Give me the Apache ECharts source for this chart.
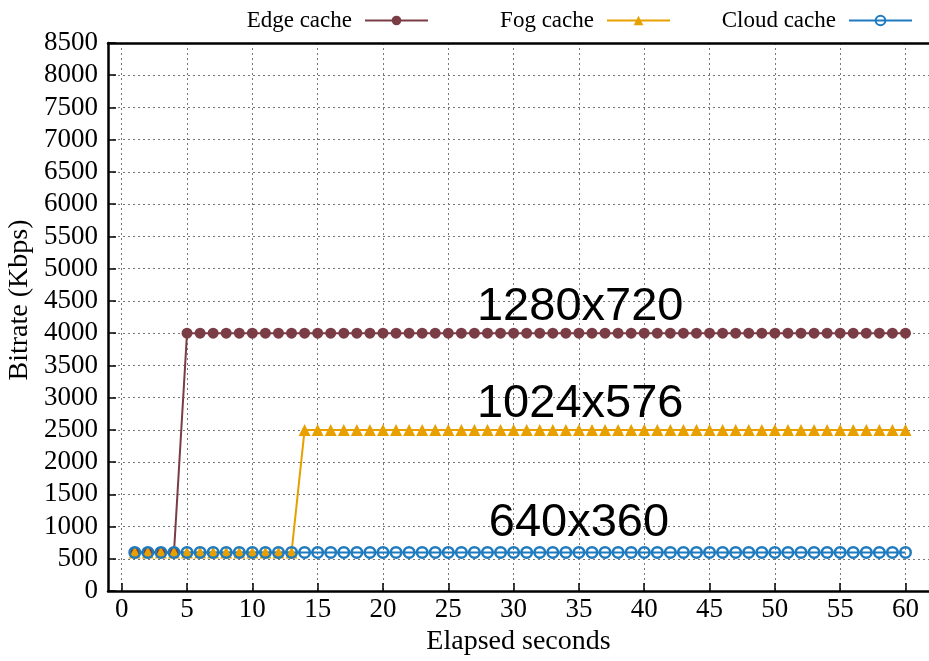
<!DOCTYPE html>
<html>
<head>
<meta charset="utf-8">
<script src="https://cdn.jsdelivr.net/npm/echarts@6/dist/echarts.min.js"></script>
<style>
  html, body { margin: 0; padding: 0; background: #fff; width: 100%; height: 100%; overflow: hidden; }
  #bitrate-chart { width: 100vw; height: 100vh; }
</style>
</head>
<body>
<div id="bitrate-chart"></div>
<script>
// elapsed seconds (x values)
const seconds = [
  1, 2, 3, 4, 5, 6, 7, 8, 9, 10,
  11, 12, 13, 14, 15, 16, 17, 18, 19, 20,
  21, 22, 23, 24, 25, 26, 27, 28, 29, 30,
  31, 32, 33, 34, 35, 36, 37, 38, 39, 40,
  41, 42, 43, 44, 45, 46, 47, 48, 49, 50,
  51, 52, 53, 54, 55, 56, 57, 58, 59, 60
];
const edgeCache = [
  600, 600, 600, 600, 4000, 4000, 4000, 4000, 4000, 4000,
  4000, 4000, 4000, 4000, 4000, 4000, 4000, 4000, 4000, 4000,
  4000, 4000, 4000, 4000, 4000, 4000, 4000, 4000, 4000, 4000,
  4000, 4000, 4000, 4000, 4000, 4000, 4000, 4000, 4000, 4000,
  4000, 4000, 4000, 4000, 4000, 4000, 4000, 4000, 4000, 4000,
  4000, 4000, 4000, 4000, 4000, 4000, 4000, 4000, 4000, 4000
];
const fogCache = [
  600, 600, 600, 600, 600, 600, 600, 600, 600, 600,
  600, 600, 600, 2500, 2500, 2500, 2500, 2500, 2500, 2500,
  2500, 2500, 2500, 2500, 2500, 2500, 2500, 2500, 2500, 2500,
  2500, 2500, 2500, 2500, 2500, 2500, 2500, 2500, 2500, 2500,
  2500, 2500, 2500, 2500, 2500, 2500, 2500, 2500, 2500, 2500,
  2500, 2500, 2500, 2500, 2500, 2500, 2500, 2500, 2500, 2500
];
const cloudCache = [
  600, 600, 600, 600, 600, 600, 600, 600, 600, 600,
  600, 600, 600, 600, 600, 600, 600, 600, 600, 600,
  600, 600, 600, 600, 600, 600, 600, 600, 600, 600,
  600, 600, 600, 600, 600, 600, 600, 600, 600, 600,
  600, 600, 600, 600, 600, 600, 600, 600, 600, 600,
  600, 600, 600, 600, 600, 600, 600, 600, 600, 600
];
const xTicks = [0, 5, 10, 15, 20, 25, 30, 35, 40, 45, 50, 55, 60];
// resolution annotations: [label, x, y]
const resolutions = [
  ['1280x720', 35.1, 4400],
  ['1024x576', 35.1, 2895],
  ['640x360', 35.0, 1060]
];

const serif = '"Liberation Serif", "DejaVu Serif", serif';
const sans = '"Liberation Sans", Arial, sans-serif';
const colors = { edge: '#7a3d45', fog: '#e8a000', cloud: '#1f7bbf' };

const pairs = (vals) => seconds.map((s, i) => [s, vals[i]]);

const chart = echarts.init(document.getElementById('bitrate-chart'));

const legendCommon = {
  top: 4,
  align: 'right',
  itemWidth: 63,
  itemHeight: 12,
  textStyle: { fontFamily: serif, fontSize: 23, color: '#000', padding: [0, 8, 0, 0] }
};

chart.setOption({
  animation: false,
  backgroundColor: '#fff',
  legend: [
    Object.assign({ right: 495, data: ['Edge cache'] }, legendCommon),
    Object.assign({ right: 253, data: ['Fog cache'] }, legendCommon),
    Object.assign({ right: 11, data: ['Cloud cache'] }, legendCommon)
  ],
  grid: { left: 108, right: 0, top: 43, bottom: 62, containLabel: false },
  xAxis: [
    {
      type: 'value',
      min: -1.05,
      max: 61.8,
      position: 'bottom',
      axisLine: { show: true, onZero: false, lineStyle: { color: '#000', width: 2.5 } },
      axisTick: { show: true, inside: true, length: 8, lineStyle: { color: '#000', width: 1.5 }, customValues: xTicks },
      axisLabel: { customValues: xTicks, fontFamily: serif, fontSize: 27, color: '#000', margin: 5 },
      splitLine: { show: true, lineStyle: { color: '#777', type: [2, 3], width: 1 } },
      name: 'Elapsed seconds',
      nameLocation: 'middle',
      nameGap: 33,
      nameTextStyle: { fontFamily: serif, fontSize: 28, color: '#000' }
    },
    {
      type: 'value',
      min: -1.05,
      max: 61.8,
      position: 'top',
      axisLine: { show: true, onZero: false, lineStyle: { color: '#000', width: 2.5 } },
      axisTick: { show: false },
      axisLabel: { show: false },
      splitLine: { show: false }
    }
  ],
  yAxis: {
    type: 'value',
    min: 0,
    max: 8500,
    interval: 500,
    axisLine: { show: true, onZero: false, lineStyle: { color: '#000', width: 2.5 } },
    axisTick: { show: true, inside: true, length: 8, lineStyle: { color: '#000', width: 1.5 } },
    axisLabel: { fontFamily: serif, fontSize: 27, color: '#000', margin: 10, formatter: (v) => String(v) },
    splitLine: { show: true, lineStyle: { color: '#777', type: [2, 3], width: 1 } }
  },
  graphic: [
    {
      type: 'text',
      x: 20,
      y: 300,
      rotation: Math.PI / 2,
      style: {
        text: 'Bitrate (Kbps)',
        fontFamily: serif,
        fontSize: 28,
        fill: '#000',
        align: 'center',
        verticalAlign: 'middle'
      }
    }
  ],
  series: [
    {
      name: 'Edge cache',
      type: 'line',
      data: pairs(edgeCache),
      symbol: 'circle',
      symbolSize: 11,
      showAllSymbol: true,
      color: colors.edge,
      lineStyle: { color: colors.edge, width: 2 },
      itemStyle: { color: colors.edge }
    },
    {
      name: 'Fog cache',
      type: 'line',
      data: pairs(fogCache),
      symbol: 'triangle',
      symbolSize: 12,
      showAllSymbol: true,
      color: colors.fog,
      lineStyle: { color: colors.fog, width: 2 },
      itemStyle: { color: colors.fog }
    },
    {
      name: 'Cloud cache',
      type: 'line',
      data: pairs(cloudCache),
      symbol: 'circle',
      symbolSize: 10.5,
      showAllSymbol: true,
      color: colors.cloud,
      lineStyle: { color: colors.cloud, width: 2 },
      itemStyle: { color: 'rgba(0,0,0,0)', borderColor: colors.cloud, borderWidth: 2.5 },
      markPoint: {
        symbol: 'circle',
        symbolSize: 0,
        silent: true,
        label: {
          show: true,
          position: 'inside',
          formatter: '{b}',
          fontFamily: sans,
          fontSize: 47,
          color: '#000'
        },
        data: resolutions.map((r) => ({ name: r[0], coord: [r[1], r[2]] }))
      }
    }
  ]
});

window.addEventListener('resize', function () {
  chart.resize();
});
</script>
</body>
</html>
